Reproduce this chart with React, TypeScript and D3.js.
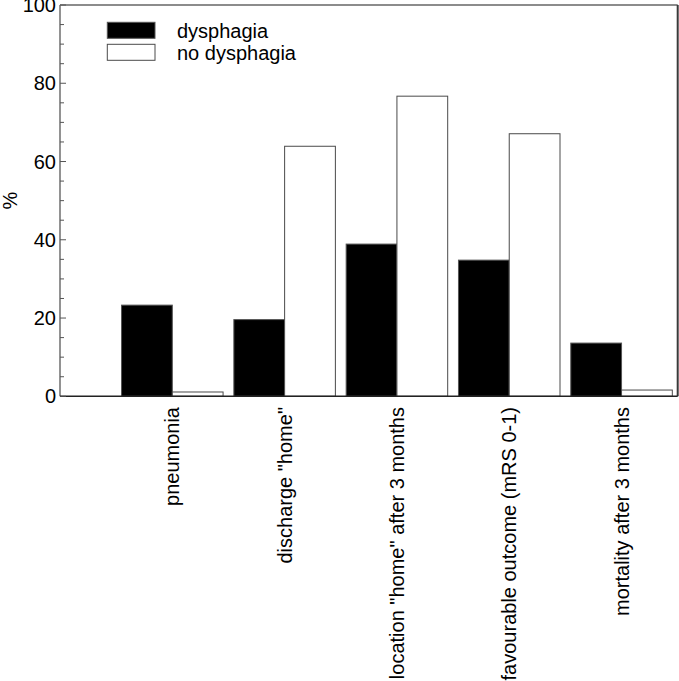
import React from "react";
import * as d3 from "d3";

const categories = [
  "pneumonia",
  'discharge "home"',
  'location "home" after 3 months',
  "favourable outcome (mRS 0-1)",
  "mortality after 3 months",
];
const dysphagia = [23.3, 19.6, 38.9, 34.8, 13.6];
const noDysphagia = [1.1, 63.9, 76.7, 67.1, 1.6];
const seriesNames = ["dysphagia", "no dysphagia"];
const majorTicks = [0, 20, 40, 60, 80, 100];
const minorTicks = d3.range(0, 101, 5);

const W = 679;
const H = 681;
const left = 60;
const right = 677.7;
const top = 5;
const bottom = 396.3;
const FONT = "'Liberation Sans', Arial, Helvetica, sans-serif";

export default function App() {
  const x = d3.scaleLinear().domain([0, 5.5]).range([left, right]);
  const y = d3.scaleLinear().domain([0, 100]).range([bottom, top]);
  const bw = 0.452;

  return (
    <svg
      width={W}
      height={H}
      style={{ position: "absolute", left: 0, top: 0, background: "#fff" }}
      fontFamily={FONT}
    >
      <rect x={0} y={0} width={W} height={H} fill="#fff" />
      {categories.map((c, i) => {
        const cx = x(i + 1);
        return (
          <g key={c}>
            <rect
              x={x(i + 1 - bw)}
              y={y(dysphagia[i])}
              width={cx - x(i + 1 - bw)}
              height={y(0) - y(dysphagia[i])}
              fill="#000"
              stroke="#555"
              strokeWidth={1}
            />
            <rect
              x={cx}
              y={y(noDysphagia[i])}
              width={x(i + 1 + bw) - cx}
              height={y(0) - y(noDysphagia[i])}
              fill="#fff"
              stroke="#4a4a4a"
              strokeWidth={1}
            />
          </g>
        );
      })}
      <line x1={left} x2={right} y1={top} y2={top} stroke="#8c8c8c" strokeWidth={2} />
      <line x1={right} x2={right} y1={top} y2={bottom} stroke="#3a3a3a" strokeWidth={2} />
      <line x1={left} x2={left} y1={top} y2={bottom} stroke="#6e6e6e" strokeWidth={1.5} />
      <line x1={left} x2={right} y1={bottom} y2={bottom} stroke="#222" strokeWidth={1.5} />
      {minorTicks.map((t) => (
        <line
          key={"m" + t}
          x1={left}
          x2={left + (t % 20 === 0 ? 6 : 4)}
          y1={y(t)}
          y2={y(t)}
          stroke="#555"
          strokeWidth={1}
        />
      ))}
      {majorTicks.map((t) => (
        <text
          key={"t" + t}
          x={56}
          y={y(t)}
          dy="0.35em"
          textAnchor="end"
          fontSize={20}
          fill="#000"
        >
          {t}
        </text>
      ))}
      <text
        transform={`translate(17, ${(top + bottom) / 2}) rotate(-90)`}
        textAnchor="middle"
        fontSize={20}
        fill="#000"
      >
        %
      </text>
      {categories.map((c, i) => (
        <text
          key={"c" + i}
          transform={`translate(${x(i + 1)}, 407) rotate(-90)`}
          dy="0.35em"
          textAnchor="end"
          fontSize={20}
          fill="#000"
        >
          {c}
        </text>
      ))}
      <rect x={107.3} y={22.3} width={47.7} height={16} fill="#000" stroke="#555" strokeWidth={1} />
      <rect x={107.3} y={44.3} width={47.7} height={16} fill="#fff" stroke="#4a4a4a" strokeWidth={1} />
      <text x={177} y={37.5} fontSize={20} fill="#000">
        {seriesNames[0]}
      </text>
      <text x={177} y={59.5} fontSize={20} fill="#000">
        {seriesNames[1]}
      </text>
    </svg>
  );
}
